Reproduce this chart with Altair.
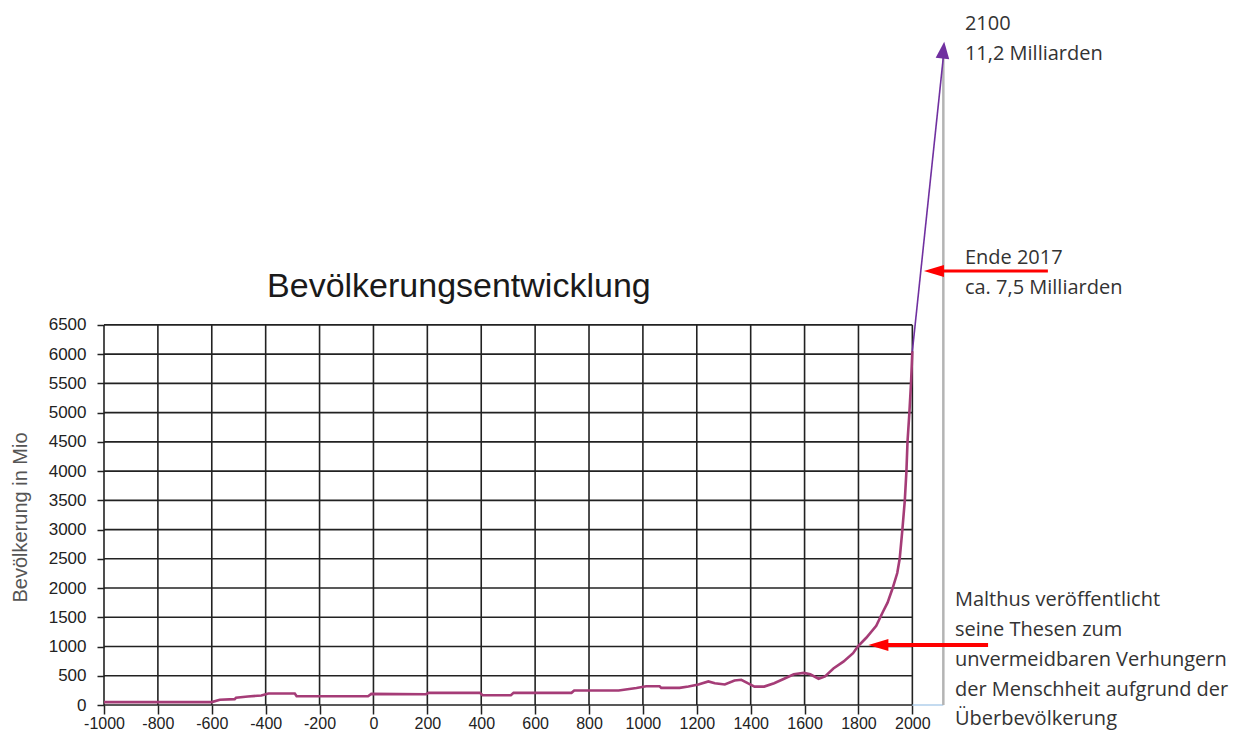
import altair as alt
import pandas as pd

# ---------------- data ----------------
years = [-1000, -600, -570, -515, -510, -466, -416, -390, -292, -285, -20, -8,
         195, 205, 395, 405, 510, 520, 735, 745, 910, 976, 1012, 1062, 1068,
         1136, 1169, 1206, 1243, 1267, 1304, 1340, 1365, 1389, 1414, 1450,
         1487, 1524, 1560, 1597, 1621, 1652, 1676, 1707, 1744, 1780, 1798,
         1829, 1866, 1890, 1908, 1927, 1944, 1953, 1963, 1972, 1978, 1982,
         1989, 1995, 2000]
population = [50, 50, 90, 100, 123, 145, 162, 197, 197, 150, 150, 190,
              185, 208, 208, 167, 167, 208, 208, 247, 247, 290, 320, 320, 293,
              293, 315, 350, 403, 373, 350, 420, 432, 373, 315, 315,
              373, 449, 525, 549, 525, 449, 490, 624, 741, 887, 1004,
              1150, 1354, 1587, 1750, 2000, 2257, 2500, 3000, 3500, 4000, 4500,
              5000, 5500, 6050]

x_ticks = list(range(-1000, 2001, 200))
y_ticks = list(range(0, 6501, 500))

# projection to 2100 (11,2 Milliarden)
proj_x = [2000, 2115]
proj_y = [6050, 11080]
proj_head = [2115, 11200]

# red arrows: (y, tail x, head x)
arrow_y = [7423, 1026]
arrow_tail = [2503, 2281]
arrow_head = [2080, 1874]

# annotation texts
ann_text = ["2100", "11,2 Milliarden", "Ende 2017", "ca. 7,5 Milliarden",
            "Malthus veröffentlicht", "seine Thesen zum",
            "unvermeidbaren Verhungern", "der Menschheit aufgrund der",
            "Überbevölkerung"]
ann_x = [2195, 2195, 2195, 2195, 2158, 2158, 2158, 2158, 2158]
ann_y = [11647, 11134, 7645, 7132, 1796, 1283, 770, 257, -239]

title_text = "Bevölkerungsentwicklung"
title_pos = [317, 6983]

# ---------------- scales ----------------
XS = alt.Scale(domain=[-1000, 3190], nice=False, zero=False)
YS = alt.Scale(domain=[0, 11920], nice=False, zero=False)

pop_df = pd.DataFrame({"year": years, "pop": population})
vgrid_df = pd.DataFrame({"x": x_ticks, "y0": y_ticks[0], "y1": y_ticks[-1]})
hgrid_df = pd.DataFrame({"y": y_ticks, "x0": x_ticks[0], "x1": x_ticks[-1]})
proj_df = pd.DataFrame({"x": proj_x, "y": proj_y})
head_df = pd.DataFrame({"x": [proj_head[0]], "y": [proj_head[1]]})
gray_df = pd.DataFrame({"x": [proj_x[1]], "y0": [0], "y1": [proj_head[1] - 50]})
blue_df = pd.DataFrame({"x0": [proj_x[0]], "x1": [proj_x[1]], "y": [0]})
red_df = pd.DataFrame({"y": arrow_y, "tail": arrow_tail, "head": arrow_head,
                       "w": [3, 4]})
ann_df = pd.DataFrame({"t": ann_text, "x": ann_x, "y": ann_y})
title_df = pd.DataFrame({"t": [title_text], "x": [title_pos[0]], "y": [title_pos[1]]})

GRID = "#222222"

x_axis = alt.Axis(values=x_ticks, labelExpr="'' + datum.value", title=None,
                  domain=False, grid=False, tickColor=GRID, tickWidth=1.5,
                  tickSize=9, labelFont="Liberation Sans", labelFontSize=16,
                  labelColor="#222222", labelPadding=1, labelFlush=False,
                  labelOverlap=False, labelBaseline="top")
y_axis = alt.Axis(values=y_ticks, labelExpr="'' + datum.value",
                  title="Bevölkerung in Mio", domain=False, grid=False,
                  tickColor=GRID, tickWidth=1.5, tickSize=7,
                  labelFont="Liberation Sans", labelFontSize=17,
                  labelColor="#222222", labelPadding=11, labelOverlap=False,
                  titleFont="Liberation Sans", titleFontSize=20,
                  titleFontWeight="normal", titleColor="#555555",
                  titleAngle=270, titleX=-84, titleY=509,
                  titleAlign="center", titleBaseline="middle")


def X(field):
    return alt.X(field, scale=XS, axis=x_axis)


def Y(field):
    return alt.Y(field, scale=YS, axis=y_axis)


vgrid = alt.Chart(vgrid_df).mark_rule(color=GRID, strokeWidth=1.6).encode(
    x=X("x:Q"), y=Y("y0:Q"), y2="y1:Q",
)
hgrid = alt.Chart(hgrid_df).mark_rule(color=GRID, strokeWidth=1.6).encode(
    y=Y("y:Q"), x=X("x0:Q"), x2="x1:Q",
)
blue = alt.Chart(blue_df).mark_rule(color="#9dc3e6", strokeWidth=1.2).encode(
    y=Y("y:Q"), x=X("x0:Q"), x2="x1:Q",
)
gray = alt.Chart(gray_df).mark_rule(color="#b4b4b4", strokeWidth=2.5).encode(
    x=X("x:Q"), y=Y("y0:Q"), y2="y1:Q",
)
popline = alt.Chart(pop_df).mark_line(color="#a53c77", strokeWidth=2.6).encode(
    x=X("year:Q"), y=Y("pop:Q"),
)
proj = alt.Chart(proj_df).mark_line(color="#7030a0", strokeWidth=1.6).encode(
    x=X("x:Q"), y=Y("y:Q"),
)
proj_tip = alt.Chart(head_df).mark_point(
    shape="M0,-1L0.8,1L-0.8,1Z", size=289, filled=True, opacity=1,
    color="#7030a0", angle=6).encode(
    x=X("x:Q"), y=Y("y:Q"),
)
red_lines = alt.Chart(red_df).mark_rule(color="#ff0000").encode(
    y=Y("y:Q"), x=X("tail:Q"), x2="head:Q",
    strokeWidth=alt.StrokeWidth("w:Q", scale=None, legend=None),
)
red_heads = alt.Chart(red_df).mark_point(
    shape="M-1,0L1,-0.6L1,0.6Z", size=400, filled=True, opacity=1,
    color="#ff0000").encode(
    y=Y("y:Q"), x=X("head:Q"),
)
ann = alt.Chart(ann_df).mark_text(
    font="Open Sans", fontSize=20, color="#333333", align="left",
    baseline="middle").encode(
    x=X("x:Q"), y=Y("y:Q"), text="t:N",
)
title = alt.Chart(title_df).mark_text(
    font="Liberation Sans", fontSize=34, color="#1a1a1a", align="center",
    baseline="alphabetic").encode(
    x=X("x:Q"), y=Y("y:Q"), text="t:N",
)

chart = alt.layer(
    vgrid, hgrid, blue, gray, popline, proj, proj_tip, red_lines, red_heads,
    ann, title,
).properties(
    width=1129, height=697,
    autosize=alt.AutoSizeParams(type="none"),
    padding={"left": 96, "top": 0, "right": 8, "bottom": 27},
    background="white",
).configure_view(stroke=None)

chart.save("out.html", embed_options={"renderer": "svg", "actions": False})
